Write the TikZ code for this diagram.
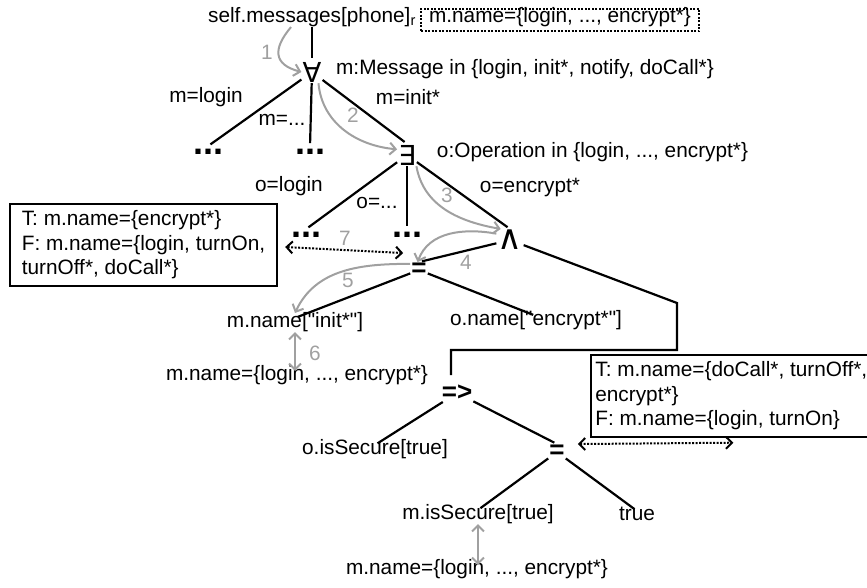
\documentclass[tikz,border=0pt]{standalone}
\usepackage{fontspec}
\setmainfont{Liberation Sans}[Ligatures=TeXOff]
\newfontfamily\quantfont{DejaVu Sans}
\usetikzlibrary{arrows}
\usetikzlibrary{arrows.meta}
\usetikzlibrary{positioning}
\definecolor{stepgray}{RGB}{160,160,160}
\tikzset{
	every node/.append style={font=\fontsize{20.8}{24.5}\selectfont},
	lbl/.style={inner sep=2pt, text height=0.75em, text depth=0.22em},
	op/.style={inner sep=1pt, font=\fontsize{27.5}{30}\selectfont\quantfont},
	rel/.style={inner sep=1pt, font=\fontsize{26}{30}\selectfont\bfseries},
	dots/.style={inner sep=3pt, font=\fontsize{36}{36}\selectfont\bfseries},
	tfbox/.style={draw, line width=2pt, align=left, inner ysep=6.5pt},
	namebox/.style={lbl, draw, line width=2pt, dash pattern=on 2pt off 1.5pt,
		    inner xsep=8pt, inner ysep=6.5pt},
	branch/.style={line width=2.2pt, shorten >=3pt},
	tip/.style={>={Straight Barb[length=6pt, width=12pt]}},
	stepline/.style={->, tip, draw=stepgray, line width=2pt},
	steplbl/.style={text=stepgray, inner sep=1pt},
	linkline/.style={<->, tip, line width=2pt, dash pattern=on 2pt off 1.5pt}
}

\begin{document}
\begin{tikzpicture}[on grid]

	\useasboundingbox (0pt,0pt) rectangle (867pt,-587pt);

	\node [op] (forall) at (312pt,-72pt) {∀};
	\node [lbl, above=52pt of forall] (msgs) {self.messages[phone]\textsubscript{r}};
	\node [namebox, right=248pt of msgs] (names) {m.name=\{login, ..., encrypt*\}};
	\node [lbl, right=213pt of forall] (varM) {m:Message in \{login, init*, notify, doCall*\}};

	\node [dots, below left=80pt and 104pt of forall] (dotsA) {...};
	\node [dots, below left=80pt and 2pt of forall] (dotsB) {...};
	\node [op, below right=83pt and 95pt of forall] (exists) {∃};
	\node [lbl, below left=28pt and 106pt of forall] (lblMLogin) {m=login};
	\node [lbl, below left=51pt and 30pt of forall] (lblMDots) {m=...};
	\node [lbl, below right=30pt and 96pt of forall] (lblMInit) {m=init*};

	\node [lbl, right=185.5pt of exists] (varO) {o:Operation in \{login, ..., encrypt*\}};
	\node [dots, below left=80pt and 101pt of exists] (dotsC) {...};
	\node [dots, below=80pt of exists] (dotsD) {...};
	\node [op, font=\fontsize{34}{34}\selectfont\quantfont, below right=85pt and 103pt of exists] (and) {∧};
	\node [lbl, below left=34pt and 118pt of exists] (lblOLogin) {o=login};
	\node [lbl, below left=51pt and 30pt of exists] (lblODots) {o=...};
	\node [lbl, below right=35pt and 123pt of exists] (lblOEnc) {o=encrypt*};

	\node [rel, below left=30pt and 91pt of and] (eq) {=};
	\node [lbl, below left=55pt and 124pt of eq] (nameInit) {m.name["init*"]};
	\node [lbl, below right=53pt and 117pt of eq] (nameEnc) {o.name["encrypt*"]};
	\node [lbl, below right=53pt and 2pt of nameInit] (domInit) {m.name=\{login, ..., encrypt*\}};
	\node [rel, below right=123pt and 38pt of eq] (impl) {=>};

	\node [lbl, below left=59pt and 82pt of impl] (secO) {o.isSecure[true]};
	\node [rel, below right=59pt and 100pt of impl] (eqSec) {=};
	\node [lbl, below left=65pt and 79pt of eqSec] (secM) {m.isSecure[true]};
	\node [lbl, below right=66pt and 80pt of eqSec] (trueVal) {true};
	\node [lbl, below left=55pt and 1pt of secM] (domSec) {m.name=\{login, ..., encrypt*\}};

	\node [tfbox, inner xsep=12pt, below left=10pt and 162.5pt of dotsC] (evalO)
		{T: m.name=\{encrypt*\}\\F: m.name=\{login, turnOn,\\turnOff*, doCall*\}};
	\node [tfbox, inner xsep=4pt, above right=56pt and 174.3pt of eqSec] (evalSec)
		{T: m.name=\{doCall*, turnOff*,\\encrypt*\}\\F: m.name=\{login, turnOn\}};

	% step numbers
	\node [steplbl, above left=20pt and 45pt of forall] (n1) {1};
	\node [steplbl, below right=43pt and 41pt of forall] (n2) {2};
	\node [steplbl, below right=40pt and 40pt of exists] (n3) {3};
	\node [steplbl, below left=22pt and 44pt of and] (n4) {4};
	\node [steplbl, below left=10pt and 71pt of eq] (n5) {5};
	\node [steplbl, below right=28pt and 20pt of nameInit] (n6) {6};
	\node [steplbl, below right=3pt and 39pt of dotsC] (n7) {7};

	\coordinate (turnA) at ([shift={(167pt,-63pt)}]and.center);
	\coordinate (turnB) at ([shift={(-6pt,43pt)}]impl.center);
	\coordinate (evalTip) at ([shift={(143pt,-5pt)}]evalSec.south west);

	\draw [branch] (msgs) -- (forall);
	\draw [branch] (forall) -- (dotsA.north);
	\draw [branch] (forall) -- (dotsB.north);
	\draw [branch] (forall) -- (exists.north);
	\draw [branch] (exists) -- (dotsC.north);
	\draw [branch] (exists) -- (dotsD.north);
	\draw [branch] (exists) -- (and.north);
	\draw [branch] (and) -- (eq.north);
	\draw [branch] (eq) -- (nameInit.north);
	\draw [branch] (eq) -- (nameEnc.north);
	\draw [branch, shorten >=9pt] (and) -- (turnA) |- (turnB) -- (turnB |- impl.north);
	\draw [branch] (impl) -- (secO.north);
	\draw [branch] (impl) -- (eqSec.north);
	\draw [branch] (eqSec) -- (secM.north);
	\draw [branch] (eqSec) -- (trueVal.north);

	\draw [stepline] ([xshift=-21pt]msgs.south) to [out=230, in=165, looseness=1.6] (forall.west);
	\draw [stepline] (forall.-60) to [out=-85, in=175] (exists.150);
	\draw [stepline] (exists.-50) to [out=-80, in=170] (and.130);
	\draw [stepline] (and.155) to [out=170, in=70] (eq.100);
	\draw [stepline] (eq.145) to [out=180, in=65] ([yshift=5pt]nameInit.north);
	\draw [stepline, <->] (nameInit.south) -- (nameInit.south |- domInit.north);
	\draw [stepline, <->] (secM.south) -- (secM.south |- domSec.north);

	\draw [linkline] ([shift={(7pt,-2pt)}]evalO.east) -- ([shift={(-7pt,9pt)}]eq.north west);
	\draw [linkline] ([xshift=12pt]eqSec.north east) -- (evalTip);

\end{tikzpicture}
\end{document}
